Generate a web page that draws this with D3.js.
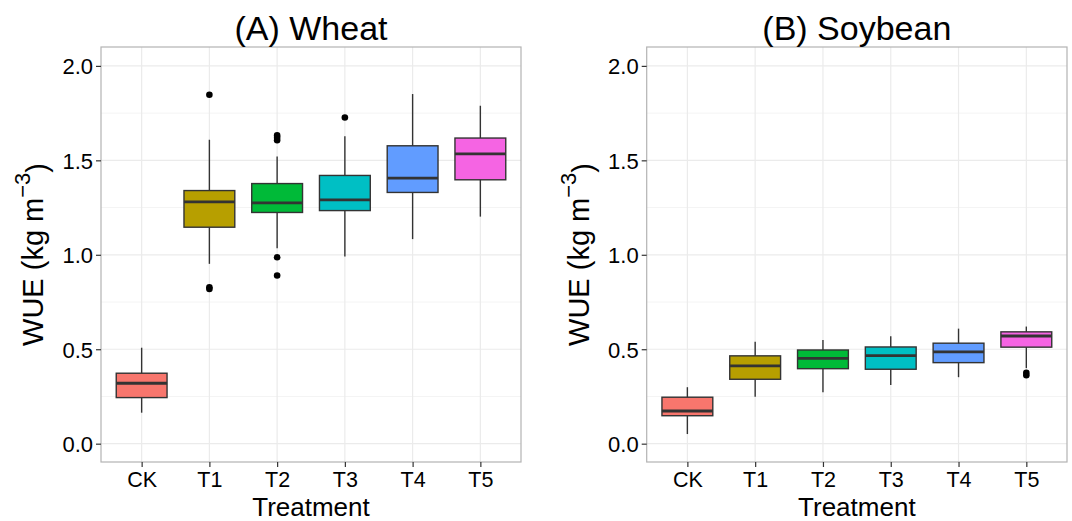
<!DOCTYPE html>
<html>
<head>
<meta charset="utf-8">
<script src="https://cdn.jsdelivr.net/npm/d3@7"></script>
<style>
  body { margin: 0; background: #fff; }
  text { font-family: "Liberation Sans", Arial, sans-serif; fill: #000; }
</style>
</head>
<body>
<svg id="chart" width="1072" height="521"></svg>
<script>
// treatments and ggplot default hues
const treatments = ['CK', 'T1', 'T2', 'T3', 'T4', 'T5'];
const fills = ['#F8766D', '#B79F00', '#00BA38', '#00BFC4', '#619CFF', '#F564E3'];
const yTicks = [0, 0.5, 1.0, 1.5, 2.0];
const yMinor = [0.25, 0.75, 1.25, 1.75];

// (A) Wheat - box stats
const wheatLow    = [0.164, 0.952, 1.035, 0.991, 1.083, 1.202];
const wheatQ1     = [0.244, 1.146, 1.224, 1.234, 1.330, 1.397];
const wheatMedian = [0.320, 1.280, 1.275, 1.291, 1.406, 1.534];
const wheatQ3     = [0.373, 1.340, 1.377, 1.420, 1.577, 1.618];
const wheatHigh   = [0.508, 1.609, 1.520, 1.628, 1.851, 1.789];
const wheatOut    = [[], [1.847, 0.828, 0.819], [1.632, 1.620, 1.606, 0.987, 0.890], [1.727], [], []];

// (B) Soybean
const soyLow    = [0.051, 0.249, 0.272, 0.311, 0.352, 0.400];
const soyQ1     = [0.148, 0.341, 0.397, 0.394, 0.429, 0.511];
const soyMedian = [0.173, 0.412, 0.452, 0.466, 0.486, 0.570];
const soyQ3     = [0.246, 0.465, 0.496, 0.512, 0.532, 0.592];
const soyHigh   = [0.299, 0.539, 0.549, 0.569, 0.609, 0.620];
const soyOut    = [[], [], [], [], [], [0.375, 0.362]];

const svg = d3.select('#chart');
const plotTop = 47, plotBottom = 462;

function panel(title, left, right, low, q1, med, q3, high, outs) {
    const x = d3.scalePoint().domain(treatments).range([left, right]).padding(0.6);
    const y = d3.scaleLinear().domain([-0.097, 2.1]).range([plotBottom, plotTop]);
    const bw = x.step() * 0.75;
    const g = svg.append('g');

    // grid
    g.selectAll('.minor').data(yMinor).join('line')
        .attr('x1', left).attr('x2', right).attr('y1', d => y(d)).attr('y2', d => y(d))
        .attr('stroke', '#F4F4F4').attr('stroke-width', 1);
    g.selectAll('.major').data(yTicks).join('line')
        .attr('x1', left).attr('x2', right).attr('y1', d => y(d)).attr('y2', d => y(d))
        .attr('stroke', '#EBEBEB').attr('stroke-width', 1.2);
    g.selectAll('.vgrid').data(treatments).join('line')
        .attr('x1', d => x(d)).attr('x2', d => x(d)).attr('y1', plotTop).attr('y2', plotBottom)
        .attr('stroke', '#EBEBEB').attr('stroke-width', 1.2);

    const stats = treatments.map((t, i) => ({t, i, low: low[i], q1: q1[i], med: med[i], q3: q3[i], high: high[i], out: outs[i]}));
    const b = g.selectAll('.box').data(stats).join('g');
    b.append('line').attr('x1', d => x(d.t)).attr('x2', d => x(d.t))
        .attr('y1', d => y(d.high)).attr('y2', d => y(d.low))
        .attr('stroke', '#333').attr('stroke-width', 1.4);
    b.append('rect').attr('x', d => x(d.t) - bw / 2).attr('width', bw)
        .attr('y', d => y(d.q3)).attr('height', d => y(d.q1) - y(d.q3))
        .attr('fill', d => fills[d.i]).attr('stroke', '#333').attr('stroke-width', 1.4);
    b.append('line').attr('x1', d => x(d.t) - bw / 2).attr('x2', d => x(d.t) + bw / 2)
        .attr('y1', d => y(d.med)).attr('y2', d => y(d.med))
        .attr('stroke', '#333').attr('stroke-width', 2.8);
    b.selectAll('circle').data(d => d.out.map(v => ({t: d.t, v}))).join('circle')
        .attr('cx', d => x(d.t)).attr('cy', d => y(d.v)).attr('r', 3.3).attr('fill', '#000');

    // border
    g.append('rect').attr('x', left).attr('y', plotTop).attr('width', right - left).attr('height', plotBottom - plotTop)
        .attr('fill', 'none').attr('stroke', '#B3B3B3').attr('stroke-width', 1.2);

    // axes
    const ya = g.append('g').attr('transform', `translate(${left},0)`)
        .call(d3.axisLeft(y).tickValues(yTicks).tickFormat(d3.format('.1f')).tickSize(5).tickPadding(3));
    ya.select('.domain').remove();
    ya.selectAll('line').attr('stroke', '#333').attr('stroke-width', 1.2);
    ya.selectAll('text').style('font-size', '22px').attr('dy', '0.36em');

    const xa = g.append('g').attr('transform', `translate(0,${plotBottom})`)
        .call(d3.axisBottom(x).tickSize(5).tickPadding(5));
    xa.select('.domain').remove();
    xa.selectAll('line').attr('stroke', '#333').attr('stroke-width', 1.2);
    xa.selectAll('text').style('font-size', '21.5px').attr('dy', '0.71em');

    // titles
    const cx = (left + right) / 2;
    g.append('text').attr('x', cx).attr('y', 40).attr('text-anchor', 'middle')
        .style('font-size', '34px').text(title);
    g.append('text').attr('x', cx).attr('y', 515.5).attr('text-anchor', 'middle')
        .style('font-size', '26px').text('Treatment');
    const yt = g.append('text').attr('transform', `translate(${left - 58},${(plotTop + plotBottom) / 2}) rotate(-90)`)
        .attr('text-anchor', 'middle').style('font-size', '29px');
    yt.append('tspan').text('WUE (kg m');
    yt.append('tspan').attr('dy', '-0.6em').style('font-size', '22px').text('\u22123');
    yt.append('tspan').attr('dy', '0.6em').text(')');
}

panel('(A) Wheat', 101, 521, wheatLow, wheatQ1, wheatMedian, wheatQ3, wheatHigh, wheatOut);
panel('(B) Soybean', 646.7, 1067, soyLow, soyQ1, soyMedian, soyQ3, soyHigh, soyOut);
</script>
</body>
</html>
